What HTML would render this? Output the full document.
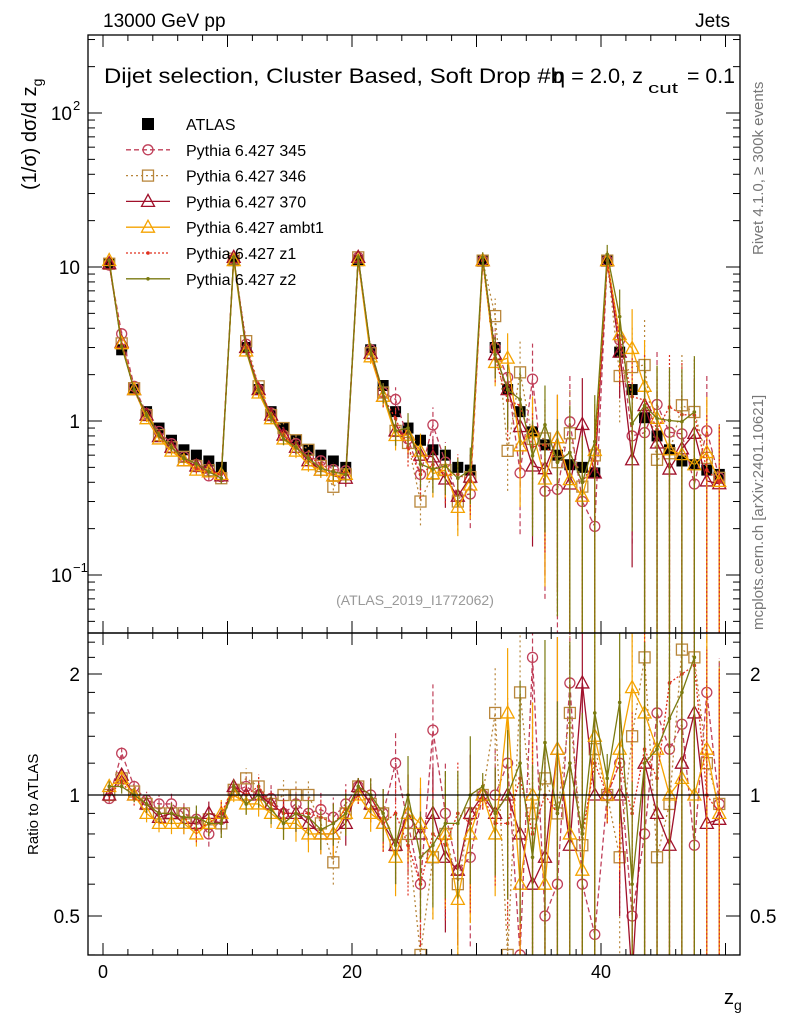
<!DOCTYPE html>
<html><head><meta charset="utf-8"><style>
html,body{margin:0;padding:0;background:#fff;overflow:hidden;width:786px;height:1024px;}
svg{display:block;font-family:"Liberation Sans",sans-serif;}
</style></head><body>
<svg id="chart" width="786" height="1024" viewBox="0 0 786 1024" xmlns="http://www.w3.org/2000/svg">
<defs>
<clipPath id="cm"><rect x="88" y="35" width="652" height="598"/></clipPath>
<clipPath id="cr"><rect x="88" y="633" width="652" height="322"/></clipPath>
</defs>
<text x="103" y="27" font-size="19">13000 GeV pp</text>
<text x="730" y="27" font-size="19" text-anchor="end">Jets</text>
<text x="104" y="83" font-size="21" textLength="460" lengthAdjust="spacingAndGlyphs">Dijet selection, Cluster Based, Soft Drop #b</text>
<text x="553" y="83" font-size="21" textLength="90" lengthAdjust="spacingAndGlyphs">η = 2.0, z</text>
<text x="648" y="93" font-size="15" textLength="30" lengthAdjust="spacingAndGlyphs">cut</text>
<text x="687" y="83" font-size="21" textLength="48" lengthAdjust="spacingAndGlyphs">= 0.1</text>
<text transform="translate(763,255) rotate(-90)" font-size="15" fill="#777">Rivet 4.1.0, ≥ 300k events</text>
<text transform="translate(763,630) rotate(-90)" font-size="15" fill="#777">mcplots.cern.ch [arXiv:2401.10621]</text>
<text x="415" y="605" font-size="14" fill="#999" text-anchor="middle">(ATLAS_2019_I1772062)</text>
<text transform="translate(36,190) rotate(-90)" font-size="20">(1/σ) dσ/d z<tspan font-size="14" dy="6">g</tspan></text>
<text transform="translate(38,855) rotate(-90)" font-size="15">Ratio to ATLAS</text>
<text x="724" y="1004" font-size="20">z<tspan font-size="14" dy="6">g</tspan></text>
<g id="gm" clip-path="url(#cm)"></g>
<g id="gr" clip-path="url(#cr)"></g>
<g id="axes"></g>
<g id="legend"></g>
</svg>
<script>
const bins = [0.5,1.5,2.5,3.5,4.5,5.5,6.5,7.5,8.5,9.5,10.5,11.5,12.5,13.5,14.5,15.5,16.5,17.5,18.5,19.5,20.5,21.5,22.5,23.5,24.5,25.5,26.5,27.5,28.5,29.5,30.5,31.5,32.5,33.5,34.5,35.5,36.5,37.5,38.5,39.5,40.5,41.5,42.5,43.5,44.5,45.5,46.5,47.5,48.5,49.5];
const atlas = [10.5,2.9,1.6,1.15,0.9,0.75,0.65,0.6,0.55,0.5, 11,3.0,1.6,1.15,0.9,0.75,0.65,0.6,0.55,0.5, 11,2.9,1.7,1.15,0.9,0.75,0.65,0.6,0.5,0.48, 11,3.0,1.6,1.15,0.85,0.7,0.6,0.52,0.5,0.46, 11,2.8,1.6,1.05,0.8,0.65,0.55,0.52,0.48,0.45];
const ratio345 = [0.98,1.27,1.05,0.97,0.95,0.95,0.9,0.87,0.8,0.87, 1.02,1.05,1.0,0.98,0.9,0.95,0.9,0.92,0.88,0.95, 1.05,1.0,0.9,1.2,0.85,0.6,1.45,0.9,0.65,0.7, 1.0,1.0,1.2,0.4,2.2,0.5,0.6,1.9,0.6,0.45, 1.0,1.2,0.5,0.8,1.6,1.3,1.5,0.75,1.8,0.95];
const ratio346 = [1.0,1.1,1.02,0.95,0.9,0.9,0.9,0.85,0.87,0.85, 1.03,1.1,1.05,0.95,1.0,1.0,1.0,0.85,0.68,0.9, 1.05,0.95,0.9,0.75,0.8,0.4,0.7,0.8,0.6,0.9, 1.0,1.6,0.4,1.8,0.9,1.1,0.9,1.6,0.75,1.3, 1.0,0.7,1.4,2.2,0.7,0.95,2.3,2.2,1.2,0.95];
const ratio370 = [1.0,1.12,1.0,0.95,0.88,0.9,0.85,0.85,0.9,0.88, 1.05,1.0,1.0,0.95,0.9,0.9,0.85,0.8,0.8,0.85, 1.05,0.95,0.85,0.75,0.9,0.8,0.9,0.7,0.65,0.9, 1.0,0.9,1.0,0.8,0.6,0.7,1.3,0.75,1.9,1.0, 1.0,1.0,0.35,1.2,0.9,0.75,1.2,1.6,0.85,0.87];
const ratioAmbt1 = [1.05,1.1,1.0,0.9,0.85,0.85,0.85,0.8,0.85,0.9, 1.0,0.95,0.95,0.9,0.85,0.85,0.8,0.8,0.8,0.9, 1.0,0.9,0.85,0.7,0.9,0.85,0.7,0.8,0.55,0.8, 1.0,0.8,1.6,0.6,1.0,0.6,1.3,0.8,0.65,1.4, 1.0,1.3,1.85,1.6,1.3,1.0,1.1,1.0,1.3,0.9];
const ratioZ1 = [1.0,1.08,0.98,0.95,0.9,0.9,0.88,0.82,0.85,0.9, 1.05,1.0,1.05,0.95,0.9,0.9,0.9,0.88,0.85,0.92, 1.0,1.0,0.85,0.9,0.75,0.6,0.8,0.75,0.9,0.85, 1.0,0.85,0.85,1.1,0.8,1.0,0.9,1.2,0.8,1.2, 1.0,1.2,0.9,1.3,1.1,1.9,2.0,2.1,1.0,0.9];
const ratioZ2 = [1.05,1.05,1.0,0.95,0.9,0.9,0.88,0.88,0.85,0.85, 1.05,0.95,1.0,0.92,0.85,0.9,0.88,0.82,0.85,0.9, 1.05,1.0,0.9,0.75,1.0,0.7,0.75,0.85,0.85,1.0, 1.05,0.9,1.0,1.2,0.7,1.35,0.9,1.2,0.8,1.6, 1.1,1.7,0.6,1.2,1.3,1.55,1.8,2.2,null,null];
const mcErr = [0.03,0.04,0.04,0.05,0.05,0.06,0.06,0.07,0.07,0.08, 0.04,0.06,0.07,0.08,0.09,0.1,0.1,0.11,0.12,0.12, 0.05,0.1,0.15,0.2,0.25,0.3,0.3,0.35,0.35,0.4, 0.08,0.3,0.45,0.6,0.7,0.8,0.9,1.0,1.0,1.0, 0.15,0.5,0.8,1.0,1.2,1.2,1.2,1.3,1.3,1.3];
const xTicks = [0,20,40];
const mainTicks = [{v:100,t:"10",sup:"2"},{v:10,t:"10",sup:""},{v:1,t:"1",sup:""},{v:0.1,t:"10",sup:"−1"}];
const ratioTicks = [2,1,0.5];

const NS="http://www.w3.org/2000/svg";
const X=v=>103+v*12.45;
const YM=v=>421-Math.log10(v)*154;
const YR=v=>795-Math.log2(v)*121;
function mk(tag,attrs,parent){const e=document.createElementNS(NS,tag);for(const k in attrs)e.setAttribute(k,attrs[k]);parent.appendChild(e);return e;}
const gm=document.getElementById('gm'),gr=document.getElementById('gr'),ax=document.getElementById('axes'),lg=document.getElementById('legend');

bins.forEach((b,i)=>{
 const p=mk('rect',{x:X(b)-5.5,y:YM(atlas[i])-5.5,width:11,height:11,fill:'#000'},gm);
 
 
});

const series=[
 {key:'345',r:ratio345,c:'#c0405a',dash:'5,3',m:'circle',label:'Pythia 6.427 345'},
 {key:'346',r:ratio346,c:'#b8863b',dash:'2,3',m:'square',label:'Pythia 6.427 346'},
 {key:'370',r:ratio370,c:'#a0102a',dash:'',m:'tri',label:'Pythia 6.427 370'},
 {key:'ambt1',r:ratioAmbt1,c:'#f5a300',dash:'',m:'tri',label:'Pythia 6.427 ambt1'},
 {key:'z1',r:ratioZ1,c:'#e0301f',dash:'2,2',m:'dot',label:'Pythia 6.427 z1'},
 {key:'z2',r:ratioZ2,c:'#7a7a10',dash:'',m:'dot',label:'Pythia 6.427 z2'}
];
function marker(m,x,y,c,g){
 let e;
 if(m==='circle')e=mk('circle',{cx:x,cy:y,r:5,fill:'none',stroke:c,'stroke-width':1.3},g);
 else if(m==='square')e=mk('rect',{x:x-5.5,y:y-5.5,width:11,height:11,fill:'none',stroke:c,'stroke-width':1.3},g);
 else if(m==='tri')e=mk('polygon',{points:`${x},${y-7} ${x-6.5},${y+5} ${x+6.5},${y+5}`,fill:'none',stroke:c,'stroke-width':1.3},g);
 else e=mk('circle',{cx:x,cy:y,r:1.8,fill:c},g);
 return e;
}
series.forEach(s=>{
 const gM=mk('g',{},gm);
 
 
 const gR=mk('g',{},gr);
 
 
 let pm='',pr='';
 bins.forEach((b,i)=>{
  const r=s.r[i]; if(r==null)return;
  const v=atlas[i]*r, x=X(b);
  pm+=(pm?'L':'M')+x+','+YM(v);
  pr+=(pr?'L':'M')+x+','+YR(r);
 });
 const lm=mk('path',{d:pm,fill:'none',stroke:s.c,'stroke-width':1.3,'stroke-dasharray':s.dash},gM);
 
 
 const lr=mk('path',{d:pr,fill:'none',stroke:s.c,'stroke-width':1.3,'stroke-dasharray':s.dash},gR);
 
 
 bins.forEach((b,i)=>{
  const r=s.r[i]; if(r==null)return;
  const v=atlas[i]*r, x=X(b), e=mcErr[i];
  const lo=Math.max(v*(1-e),1e-4), hi=v*(1+e);
  const eb=mk('line',{x1:x,x2:x,y1:YM(lo),y2:YM(hi),stroke:s.c,'stroke-width':1.2,'stroke-dasharray':s.dash},gM);
  
  
  const ebr=mk('line',{x1:x,x2:x,y1:YR(Math.max(r*(1-e),1e-4)),y2:YR(r*(1+e)),stroke:s.c,'stroke-width':1.2,'stroke-dasharray':s.dash},gR);
  
  
  const pt=marker(s.m,x,YM(v),s.c,gM);
  
  
  const ptr=marker(s.m,x,YR(r),s.c,gR);
  
  
 });
});
const one=mk('line',{x1:88,x2:740,y1:YR(1),y2:YR(1),stroke:'#000','stroke-width':1.3},gr);


const f1=mk('rect',{x:88,y:35,width:652,height:598,fill:'none',stroke:'#000','stroke-width':1.3},ax);


const f2=mk('rect',{x:88,y:633,width:652,height:322,fill:'none',stroke:'#000','stroke-width':1.3},ax);


for(let v=0;v<=50;v+=2){
 const len=(v%10===0)?12:6;
 [[35,1],[633,-1],[633,1],[955,-1]].forEach(([y0,d])=>{
  const t=mk('line',{x1:X(v),x2:X(v),y1:y0,y2:y0+d*len,stroke:'#000','stroke-width':1},ax);
  
  
 });
}
xTicks.forEach(v=>{
 const t=mk('text',{x:X(v),y:978,'font-size':18,'text-anchor':'middle'},ax);
 t.textContent=v;
 
 
});
for(let d=-2;d<=2;d++){for(let k=1;k<10;k++){
 const v=k*Math.pow(10,d), y=YM(v); if(y<35||y>633)continue;
 const len=k===1?14:7;
 [[88,1],[740,-1]].forEach(([x0,s])=>{
  const t=mk('line',{x1:x0,x2:x0+s*len,y1:y,y2:y,stroke:'#000','stroke-width':1},ax);
  
  
 });
}}
mainTicks.forEach(o=>{
 const t=mk('text',{x:o.sup?72:80,y:YM(o.v)+7,'font-size':19,'text-anchor':'end'},ax);
 t.textContent=o.t;
 
 
 if(o.sup){const s=mk('text',{x:73,y:YM(o.v)-3,'font-size':13},ax);s.textContent=o.sup;
  
  }
});
[0.4,0.5,0.6,0.7,0.8,0.9,1,1.2,1.4,1.6,1.8,2,2.2,2.4].forEach(v=>{
 const y=YR(v); const len=(v===0.5||v===1||v===2)?14:7;
 [[88,1],[740,-1]].forEach(([x0,s])=>{
  const t=mk('line',{x1:x0,x2:x0+s*len,y1:y,y2:y,stroke:'#000','stroke-width':1},ax);
  
  
 });
});
ratioTicks.forEach(v=>{
 const t=mk('text',{x:80,y:YR(v)+7,'font-size':19,'text-anchor':'end'},ax);
 t.textContent=v;
 
 
 const t2=mk('text',{x:750,y:YR(v)+7,'font-size':19},ax);
 t2.textContent=v;
 
 
});
const ly0=124, ldy=25.8;
const la=mk('rect',{x:142,y:ly0-6,width:12,height:12,fill:'#000'},lg);


const lat=mk('text',{x:186,y:ly0+6,'font-size':16},lg);
lat.textContent='ATLAS';


series.forEach((s,i)=>{
 const y=ly0+ldy*(i+1);
 const l=mk('line',{x1:126,x2:170,y1:y,y2:y,stroke:s.c,'stroke-width':1.3,'stroke-dasharray':s.dash},lg);
 
 
 const m=marker(s.m,148,y,s.c,lg);
 
 
 const t=mk('text',{x:186,y:y+6,'font-size':16},lg);
 t.textContent=s.label;
 
 
});
</script>
</body></html>
